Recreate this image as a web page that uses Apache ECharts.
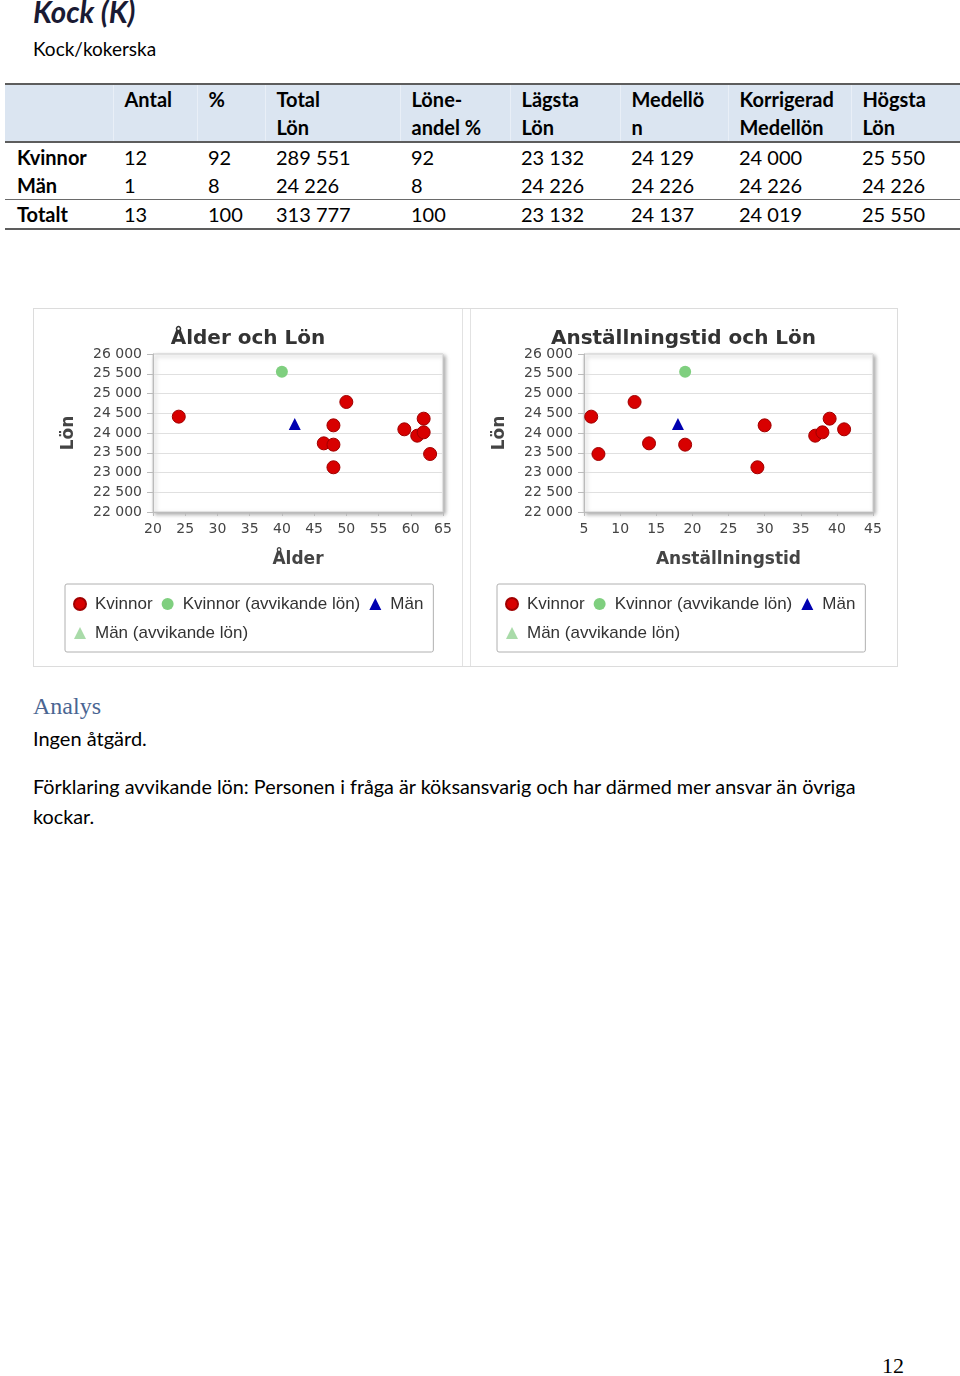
<!DOCTYPE html>
<html><head><meta charset="utf-8">
<script src="https://cdn.jsdelivr.net/npm/echarts@6/dist/echarts.min.js"></script>
<style>
html,body{margin:0;padding:0;background:#fff}
body{width:960px;height:1376px;position:relative;overflow:hidden;font-family:Lato,"Open Sans",sans-serif;color:#000}
.abs{position:absolute;white-space:nowrap}
table{border-collapse:collapse;table-layout:fixed}
td{padding:0 0 0 11px;line-height:28px;vertical-align:top;white-space:nowrap}
thead td{background:#dbe5f1;font-weight:700;border-left:1px solid #e9eff7}
thead td:first-child{border-left:none}
thead tr{border-top:2px solid #5d5d5d;border-bottom:2px solid #5d5d5d}
tbody td:first-child{font-weight:700;padding-left:12px}
tr.tot{border-top:1px solid #6a6a6a;border-bottom:2px solid #5d5d5d}
</style></head><body>

<div class="abs" style="left:33px;top:-6px;font:italic 700 29.5px/36px Lato;color:#1a1a33">Kock (K)</div>
<div class="abs" style="left:33px;top:37px;font:400 19px/24px Lato">Kock/kokerska</div>

<table id="tbl" style="position:absolute;left:5px;top:83px;width:955px;font-size:20px"></table>

<div class="abs" style="left:33px;top:308px;width:863px;height:357px;border:1px solid #dcdcdc"></div>
<div class="abs" style="left:462px;top:309px;width:1px;height:357px;background:#e2e2e2"></div>
<div class="abs" style="left:470px;top:309px;width:1px;height:357px;background:#e2e2e2"></div>
<div id="c1" class="abs" style="left:34px;top:309px;width:428px;height:357px"></div>
<div id="c2" class="abs" style="left:471px;top:309px;width:425px;height:357px"></div>

<div class="abs" style="left:33px;top:691px;font:400 24px/30px 'Liberation Serif',serif;color:#4a6592">Analys</div>
<div class="abs" style="left:33px;top:726px;font:400 20px/24px Lato">Ingen åtgärd.</div>
<div class="abs" style="left:33px;top:771px;font:400 19.8px/30px Lato">Förklaring avvikande lön: Personen i fråga är köksansvarig och har därmed mer ansvar än övriga<br>kockar.</div>
<div class="abs" style="left:882px;top:1353px;font:400 22px/26px 'Liberation Serif',serif">12</div>

<script>
// ---- Table data ----
const tableHeaders = ["", "Antal", "%", "Total<br>Lön", "Löne-<br>andel %", "Lägsta<br>Lön", "Medellö<br>n", "Korrigerad<br>Medellön", "Högsta<br>Lön"];
const rowKvinnor = ["Kvinnor", "12", "92", "289 551", "92", "23 132", "24 129", "24 000", "25 550"];
const rowMan = ["Män", "1", "8", "24 226", "8", "24 226", "24 226", "24 226", "24 226"];
const rowTotalt = ["Totalt", "13", "100", "313 777", "100", "23 132", "24 137", "24 019", "25 550"];
const colWidths = [108, 84, 68, 135, 110, 110, 108, 123, 109];

// ---- Scatter data ----
const kvinnorLon   = [24414, 23468, 24785, 23738, 23705, 24194, 23132, 23932, 24017, 24363, 24093];
const kvinnorAlder = [24, 63, 50, 46.5, 48, 48, 48, 61, 62, 62, 59];
const kvinnorTid   = [6, 7, 12, 14, 19, 30, 29, 37, 38, 39, 41];
const kvAvvLon   = [25550];
const kvAvvAlder = [40];
const kvAvvTid   = [19];
const manLon   = [24226];
const manAlder = [42];
const manTid   = [18];
const manAvvLon = [];
const manAvvAlder = [];
const manAvvTid = [];
const legendNames = ["Kvinnor", "Kvinnor (avvikande lön)", "Män", "Män (avvikande lön)"];

// build table
(function(){
  const t = document.getElementById('tbl');
  let h = '<colgroup>' + colWidths.map(w => '<col style="width:' + w + 'px">').join('') + '</colgroup>';
  h += '<thead><tr style="height:56px">' + tableHeaders.map(x => '<td>' + x + '</td>').join('') + '</tr></thead><tbody>';
  h += '<tr>' + rowKvinnor.map(x => '<td>' + x + '</td>').join('') + '</tr>';
  h += '<tr>' + rowMan.map(x => '<td>' + x + '</td>').join('') + '</tr>';
  h += '<tr class="tot">' + rowTotalt.map(x => '<td>' + x + '</td>').join('') + '</tr></tbody>';
  t.innerHTML = h;
})();

const pairs = (xs, ys) => xs.map((x, i) => [x, ys[i]]);
const fmt = v => String(v).replace(/\B(?=(\d{3})+(?!\d))/g, ' ');

function makeChart(id, cfg) {
  const c = echarts.init(document.getElementById(id), null, {renderer: 'canvas'});
  const axisFont = {fontFamily: 'DejaVu Sans', fontSize: 14, color: '#444'};
  const nameFont = {fontFamily: 'DejaVu Sans', fontSize: 17, fontWeight: 'bold', color: '#444'};
  c.setOption({
    animation: false,
    title: {text: cfg.title, left: 'center', top: 15,
      textStyle: {fontFamily: 'DejaVu Sans', fontSize: 20, fontWeight: 'bold', color: '#333'}},
    grid: {left: cfg.gridLeft, top: 45, width: cfg.gridWidth, height: 158, show: true,
      backgroundColor: '#fff', borderColor: '#cfcfcf', borderWidth: 1,
      shadowColor: 'rgba(0,0,0,0.35)', shadowBlur: 4, shadowOffsetX: 2, shadowOffsetY: 2},
    xAxis: {type: 'value', min: cfg.xMin, max: cfg.xMax, interval: 5,
      name: cfg.xName, nameLocation: 'middle', nameGap: 39, nameTextStyle: nameFont,
      axisLine: {show: true, lineStyle: {color: '#bbb'}},
      axisTick: {show: true, length: 4, lineStyle: {color: '#bbb'}},
      axisLabel: Object.assign({margin: 10}, axisFont),
      splitLine: {show: false}},
    yAxis: {type: 'value', min: 22000, max: 26000, interval: 500,
      name: 'Lön', nameLocation: 'middle', nameGap: 76, nameTextStyle: nameFont,
      axisLine: {show: true, lineStyle: {color: '#bbb'}},
      axisTick: {show: true, length: 6, lineStyle: {color: '#bbb'}},
      axisLabel: Object.assign({margin: 11, formatter: fmt}, axisFont),
      splitLine: {show: true, lineStyle: {color: '#e0e0e0'}}},
    legend: {left: cfg.legendLeft, top: 275, width: 360, itemGap: 9, itemWidth: 12, itemHeight: 12,
      padding: [10, 10, 9, 8], borderColor: '#b0b0b0', borderWidth: 1, borderRadius: 2,
      textStyle: {fontFamily: 'Liberation Sans', fontSize: 17, color: '#333', lineHeight: 20, padding: [0, 0, 0, 4]},
      data: [{name: legendNames[0], icon: 'circle'}, {name: legendNames[1], icon: 'circle'},
             {name: legendNames[2], icon: 'triangle'}, {name: legendNames[3], icon: 'triangle'}]},
    series: [
      {name: legendNames[0], type: 'scatter', symbol: 'circle', symbolSize: 13,
        itemStyle: {color: '#d80000', borderColor: '#a00000', borderWidth: 1, opacity: 1},
        data: pairs(cfg.kvX, kvinnorLon)},
      {name: legendNames[1], type: 'scatter', symbol: 'circle', symbolSize: 12,
        itemStyle: {color: '#7fcf7f', opacity: 1}, data: pairs(cfg.kvAvvX, kvAvvLon)},
      {name: legendNames[2], type: 'scatter', symbol: 'triangle', symbolSize: 12,
        itemStyle: {color: '#0000b0', opacity: 1}, data: pairs(cfg.manX, manLon)},
      {name: legendNames[3], type: 'scatter', symbol: 'triangle', symbolSize: 12,
        itemStyle: {color: '#a9dba9', opacity: 1}, data: pairs(cfg.manAvvX, manAvvLon)}
    ]
  });
}

makeChart('c1', {title: 'Ålder och Lön', xName: 'Ålder', xMin: 20, xMax: 65,
  gridLeft: 119, gridWidth: 290, legendLeft: 31,
  kvX: kvinnorAlder, kvAvvX: kvAvvAlder, manX: manAlder, manAvvX: manAvvAlder});
makeChart('c2', {title: 'Anställningstid och Lön', xName: 'Anställningstid', xMin: 5, xMax: 45,
  gridLeft: 113, gridWidth: 289, legendLeft: 26,
  kvX: kvinnorTid, kvAvvX: kvAvvTid, manX: manTid, manAvvX: manAvvTid});
</script>
</body></html>
